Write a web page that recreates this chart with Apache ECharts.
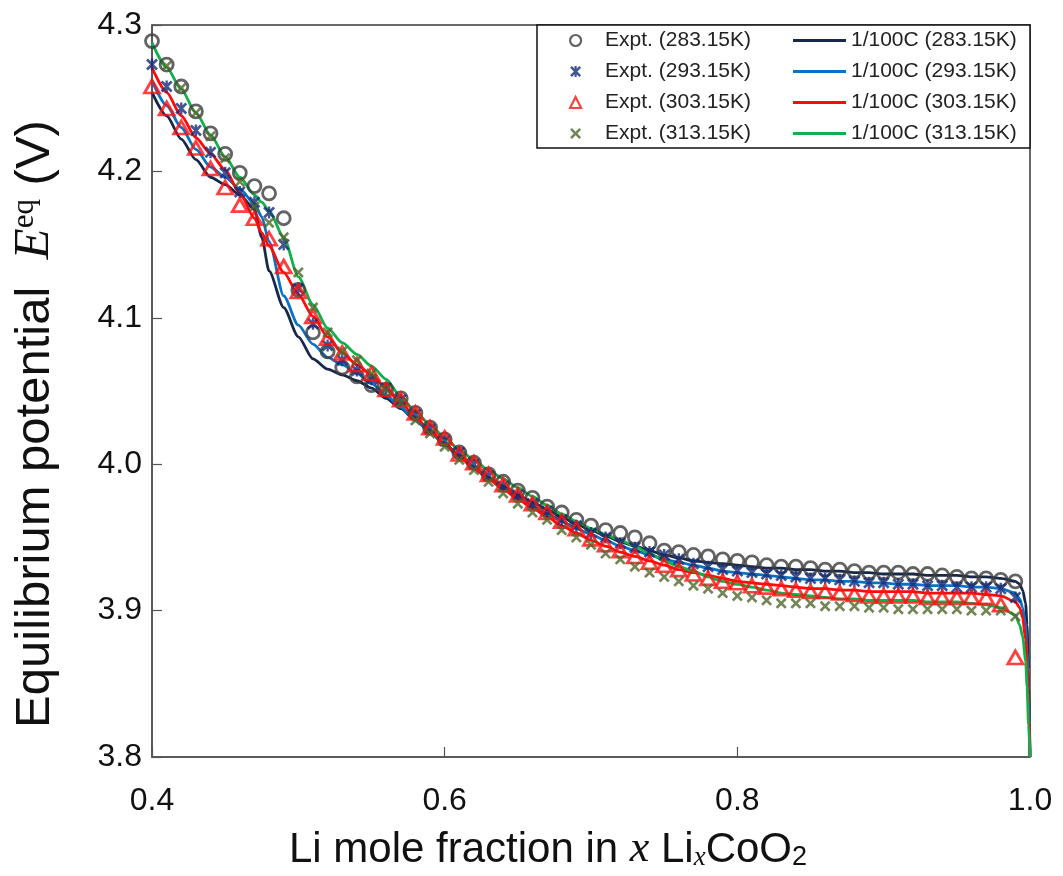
<!DOCTYPE html>
<html><head><meta charset="utf-8">
<script src="https://cdn.jsdelivr.net/npm/echarts@6/dist/echarts.min.js"></script>
<style>html,body{margin:0;padding:0;background:#fff}#c{width:1063px;height:876px}</style>
</head><body><div id="c"></div>
<script>
// ---- data ----
const exptX = [0.40,0.41,0.42,0.43,0.44,0.45,0.46,0.47,0.48,0.49,0.50,0.51,0.52,0.53,0.54,0.55,0.56,0.57,0.58,0.59,
  0.60,0.61,0.62,0.63,0.64,0.65,0.66,0.67,0.68,0.69,0.70,0.71,0.72,0.73,0.74,0.75,0.76,0.77,0.78,0.79,
  0.80,0.81,0.82,0.83,0.84,0.85,0.86,0.87,0.88,0.89,0.90,0.91,0.92,0.93,0.94,0.95,0.96,0.97,0.98,0.99];
const expt283 = [4.289,4.273,4.258,4.241,4.226,4.212,4.199,4.190,4.185,4.168,4.119,4.090,4.077,4.066,4.060,4.054,4.051,4.045,4.035,4.025,
  4.017,4.008,4.001,3.993,3.988,3.982,3.977,3.971,3.967,3.962,3.958,3.955,3.953,3.950,3.946,3.941,3.940,3.938,3.937,3.935,
  3.934,3.933,3.931,3.930,3.930,3.929,3.928,3.928,3.927,3.926,3.926,3.926,3.925,3.925,3.924,3.923,3.922,3.922,3.921,3.920];
const expt293 = [4.273,4.258,4.243,4.228,4.213,4.199,4.186,4.179,4.172,4.150,4.120,4.096,4.081,4.071,4.064,4.058,4.052,4.044,4.034,4.024,
  4.016,4.008,4.000,3.992,3.985,3.979,3.973,3.968,3.962,3.958,3.953,3.950,3.946,3.943,3.940,3.938,3.935,3.932,3.930,3.928,
  3.927,3.926,3.925,3.924,3.923,3.922,3.922,3.921,3.920,3.919,3.919,3.918,3.918,3.917,3.917,3.916,3.916,3.916,3.915,3.909];
const expt303 = [4.258,4.243,4.230,4.216,4.202,4.189,4.177,4.168,4.154,4.135,4.118,4.101,4.086,4.076,4.068,4.062,4.051,4.044,4.035,4.025,
  4.018,4.007,4.001,3.993,3.986,3.979,3.973,3.967,3.961,3.956,3.949,3.945,3.941,3.937,3.933,3.931,3.928,3.925,3.922,3.920,
  3.919,3.917,3.916,3.915,3.914,3.913,3.913,3.912,3.911,3.910,3.910,3.910,3.910,3.909,3.909,3.909,3.909,3.909,3.904,3.868];
const expt313 = [null,4.272,4.257,4.240,4.224,4.209,4.193,4.176,4.165,4.155,4.131,4.107,4.090,4.077,4.071,4.062,4.051,4.042,4.030,4.021,
  4.012,4.003,3.996,3.988,3.980,3.973,3.967,3.962,3.955,3.950,3.945,3.939,3.935,3.930,3.926,3.923,3.920,3.917,3.915,3.912,
  3.910,3.909,3.907,3.905,3.905,3.905,3.903,3.903,3.903,3.902,3.902,3.901,3.901,3.901,3.901,3.901,3.900,3.900,3.900,3.896];

const modelX = [0.40,0.41,0.42,0.43,0.44,0.45,0.46,0.47,0.475,0.48,0.49,0.50,0.51,0.52,0.53,0.54,0.55,0.56,0.57,0.58,0.59,
  0.60,0.61,0.62,0.63,0.64,0.65,0.66,0.67,0.68,0.69,0.70,0.71,0.72,0.73,0.74,0.75,0.76,0.77,0.78,0.79,
  0.80,0.81,0.82,0.83,0.84,0.85,0.86,0.87,0.88,0.89,0.90,0.91,0.92,0.93,0.94,0.95,0.96,0.97,0.98,0.99,
  0.993,0.995,0.997,0.998,0.999,1.0];
const model283 = [4.254,4.238,4.222,4.208,4.196,4.191,4.184,4.174,4.155,4.132,4.107,4.087,4.072,4.065,4.061,4.057,4.052,4.045,4.038,4.030,4.022,
  4.014,4.006,3.998,3.991,3.985,3.979,3.974,3.969,3.964,3.959,3.955,3.951,3.947,3.944,3.941,3.938,3.936,3.934,3.933,3.932,
  3.931,3.930,3.929,3.929,3.928,3.928,3.927,3.927,3.926,3.926,3.925,3.925,3.925,3.924,3.924,3.924,3.923,3.923,3.922,3.920,
  3.918,3.914,3.905,3.890,3.860,3.800];
const model293 = [4.262,4.245,4.230,4.215,4.203,4.196,4.188,4.178,4.169,4.152,4.115,4.095,4.082,4.073,4.068,4.062,4.055,4.047,4.039,4.030,4.022,
  4.013,4.005,3.998,3.990,3.983,3.977,3.971,3.966,3.961,3.956,3.952,3.948,3.944,3.941,3.938,3.935,3.933,3.931,3.929,3.927,
  3.926,3.925,3.924,3.923,3.922,3.921,3.921,3.920,3.920,3.919,3.919,3.918,3.918,3.917,3.917,3.917,3.916,3.916,3.915,3.912,
  3.908,3.902,3.890,3.872,3.845,3.800];
const model303 = [4.271,4.254,4.238,4.223,4.212,4.201,4.185,4.168,4.158,4.149,4.131,4.116,4.101,4.087,4.076,4.068,4.061,4.052,4.042,4.032,4.023,
  4.014,4.005,3.997,3.990,3.983,3.976,3.970,3.964,3.958,3.953,3.948,3.944,3.940,3.937,3.934,3.931,3.928,3.926,3.924,3.922,
  3.920,3.919,3.918,3.917,3.916,3.915,3.915,3.914,3.914,3.913,3.913,3.913,3.913,3.912,3.912,3.912,3.912,3.911,3.910,3.906,
  3.902,3.895,3.880,3.862,3.835,3.800];
const model313 = [4.288,4.271,4.256,4.240,4.225,4.210,4.196,4.184,4.179,4.173,4.155,4.128,4.109,4.093,4.083,4.075,4.067,4.058,4.046,4.036,4.027,
  4.018,4.010,4.003,3.996,3.990,3.984,3.978,3.972,3.966,3.961,3.956,3.952,3.948,3.944,3.939,3.934,3.930,3.927,3.923,3.920,
  3.918,3.916,3.914,3.912,3.911,3.910,3.909,3.908,3.908,3.907,3.907,3.907,3.907,3.906,3.906,3.906,3.905,3.904,3.902,3.897,
  3.890,3.882,3.866,3.848,3.822,3.800];

const xTicks = ['0.4','0.6','0.8','1.0'];
const yTicks = ['3.8','3.9','4.0','4.1','4.2','4.3'];
const exptNames = ['Expt. (283.15K)','Expt. (293.15K)','Expt. (303.15K)','Expt. (313.15K)'];
const modelNames = ['1/100C (283.15K)','1/100C (293.15K)','1/100C (303.15K)','1/100C (313.15K)'];

// ---- build ----
function zip(xs, ys){ const r=[]; for(let i=0;i<xs.length;i++){ if(ys[i]!=null) r.push([xs[i], ys[i]]);} return r; }
const starPath = 'path://M0,1.6 L1.6,0 L5,3.4 L8.4,0 L10,1.6 L6.6,5 L10,8.4 L8.4,10 L5,6.6 L1.6,10 L0,8.4 L3.4,5 Z M4.0,0 L6.0,0 L6.0,10 L4.0,10 Z';
const crossPath = 'path://M0,1.7 L1.7,0 L5,3.3 L8.3,0 L10,1.7 L6.7,5 L10,8.3 L8.3,10 L5,6.7 L1.7,10 L0,8.3 L3.3,5 Z';
const SANS = 'Liberation Sans, Arial, sans-serif';
const SERIF = 'Liberation Serif, Times New Roman, serif';

const lineColors = ['#17284a','#0a72c4','#ff0a0a','#12b04a'];
const modelData = [model283, model293, model303, model313];
const series = [];
modelData.forEach((d,i)=>{
  series.push({name: modelNames[i], type:'line', data: zip(modelX, d), symbol:'none', showSymbol:false,
    smooth:0.25, smoothMonotone:'x', lineStyle:{width:2.8, color:lineColors[i]}, itemStyle:{color:lineColors[i]}, z:2, animation:false});
});
series.push({name: exptNames[0], type:'scatter', data: zip(exptX, expt283), symbol:'circle', symbolSize:13,
  itemStyle:{color:'rgba(255,255,255,0)', borderColor:'#3c3c3c', borderWidth:2.8}, z:3, animation:false});
series.push({name: exptNames[1], type:'scatter', data: zip(exptX, expt293), symbol:starPath, symbolSize:12,
  itemStyle:{color:'#142c78'}, z:3, animation:false});
series.push({name: exptNames[2], type:'scatter', data: zip(exptX, expt303), symbol:'triangle', symbolSize:[15,13],
  itemStyle:{color:'rgba(255,255,255,0)', borderColor:'#ff1010', borderWidth:2.8}, z:3, animation:false});
series.push({name: exptNames[3], type:'scatter', data: zip(exptX, expt313), symbol:crossPath, symbolSize:11,
  itemStyle:{color:'#50672b'}, z:3, animation:false});

const chart = echarts.init(document.getElementById('c'));
chart.setOption({
  backgroundColor:'#fff',
  animation:false,
  grid:{left:152, right:33, top:25, bottom:119, show:true, borderColor:'#3a3a3a', borderWidth:1.5, backgroundColor:'transparent'},
  xAxis:{type:'value', min:0.4, max:1.0, interval:0.2,
    axisLine:{show:true, lineStyle:{color:'#555', width:1.5}},
    axisTick:{show:true, inside:true, length:10, lineStyle:{color:'#555', width:1.2}},
    splitLine:{show:false},
    axisLabel:{fontSize:32, fontFamily:SANS, color:'#111', margin:28,
      formatter:(v)=>{ const s=v.toFixed(1); return xTicks.includes(s)? s : ''; }},
    nameLocation:'middle', nameGap:66,
    name:'{t|Li mole fraction in }{i|x}{t| Li}{sub|x}{t|CoO}{s2|2}',
    nameTextStyle:{padding:[0,86,0,0], rich:{
      t:{fontSize:42, fontFamily:SANS, color:'#111', lineHeight:48, verticalAlign:'bottom'},
      i:{fontSize:44, fontFamily:SERIF, fontStyle:'italic', color:'#111', lineHeight:48, verticalAlign:'bottom'},
      sub:{fontSize:27, fontFamily:SERIF, fontStyle:'italic', color:'#111', lineHeight:4, verticalAlign:'bottom'},
      s2:{fontSize:27, fontFamily:SANS, color:'#111', lineHeight:4, verticalAlign:'bottom'}
    }}
  },
  yAxis:{type:'value', min:3.8, max:4.3, interval:0.1,
    axisLine:{show:true, lineStyle:{color:'#555', width:1.5}},
    axisTick:{show:true, inside:true, length:10, lineStyle:{color:'#555', width:1.2}},
    splitLine:{show:false},
    axisLabel:{fontSize:32, fontFamily:SANS, color:'#111', margin:10,
      formatter:(v)=>{ const s=v.toFixed(1); return yTicks.includes(s)? s : ''; }},
    nameLocation:'middle', nameGap:92, nameRotate:90,
    name:'{t|Equilibrium potential  }{i|E}{sup|eq}{t| (V)}',
    nameTextStyle:{padding:[0,66,0,0], rich:{
      t:{fontSize:49, fontFamily:SANS, color:'#111', lineHeight:54, verticalAlign:'bottom'},
      i:{fontSize:51, fontFamily:SERIF, fontStyle:'italic', color:'#111', lineHeight:54, verticalAlign:'bottom'},
      sup:{fontSize:31, fontFamily:SERIF, color:'#111', lineHeight:54, verticalAlign:'bottom', padding:[0,0,20,0]}
    }}
  },
  legend:[
    {data:exptNames, orient:'vertical', left:569, top:30, padding:0, itemWidth:11, itemHeight:11, itemGap:10,
     itemStyle:{borderWidth:2.2},
     textStyle:{fontSize:21, fontFamily:SANS, color:'#222', padding:[0,0,0,19]}, selectedMode:false},
    {data:modelNames.map(n=>({name:n, icon:'rect'})), orient:'vertical', left:793, top:30, padding:0, itemWidth:53, itemHeight:3, itemGap:10,
     textStyle:{fontSize:21, fontFamily:SANS, color:'#222'}, selectedMode:false}
  ],
  graphic:[{type:'rect', z:3, shape:{x:537, y:25, width:493, height:123}, style:{fill:'#fff', stroke:'#111', lineWidth:1.5}}],
  series: series
});
</script></body></html>
